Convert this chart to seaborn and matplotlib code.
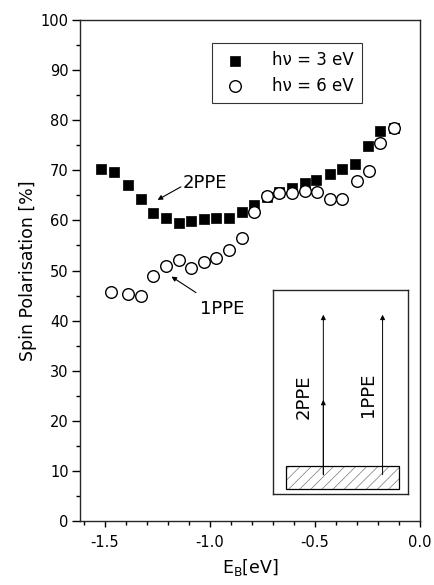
import numpy as np
import pandas as pd
import matplotlib
matplotlib.use('Agg')
import matplotlib.pyplot as plt
import seaborn as sns
from matplotlib.patches import Rectangle

sns.set_style('ticks')
plt.rcParams['font.family'] = ['DejaVu Sans']
plt.rcParams['axes.unicode_minus'] = False
plt.rcParams['hatch.linewidth'] = 0.5
plt.rcParams['text.color'] = 'black'
plt.rcParams['axes.labelcolor'] = 'black'
plt.rcParams['xtick.color'] = 'black'
plt.rcParams['ytick.color'] = 'black'

# hv = 3 eV (filled squares)
e_3ev = [-1.52, -1.457, -1.393, -1.33, -1.27, -1.21, -1.15, -1.09, -1.03, -0.97,
         -0.91, -0.85, -0.79, -0.73, -0.67, -0.61, -0.55, -0.495, -0.43, -0.37,
         -0.31, -0.25, -0.19, -0.126]
p_3ev = [70.3, 69.7, 67.0, 64.3, 61.4, 60.5, 59.5, 59.8, 60.2, 60.5,
         60.4, 61.7, 63.1, 64.6, 65.7, 66.4, 67.4, 68.0, 69.3, 70.3,
         71.3, 74.8, 77.8, 78.5]

# hv = 6 eV (open circles)
e_6ev = [-1.473, -1.393, -1.33, -1.27, -1.21, -1.15, -1.09, -1.03, -0.97, -0.91,
         -0.85, -0.79, -0.73, -0.67, -0.61, -0.55, -0.49, -0.43, -0.37, -0.30,
         -0.245, -0.19, -0.126]
p_6ev = [45.8, 45.4, 45.0, 48.9, 51.0, 52.1, 50.5, 51.7, 52.6, 54.1,
         56.4, 61.6, 64.8, 65.5, 65.5, 65.9, 65.7, 64.2, 64.2, 67.8,
         69.9, 75.5, 78.4]

df = pd.concat([
    pd.DataFrame({'E': e_3ev, 'P': p_3ev, 'src': 'hν = 3 eV'}),
    pd.DataFrame({'E': e_6ev, 'P': p_6ev, 'src': 'hν = 6 eV'}),
])

fs = 10.5
fs_big = 13

fig = plt.figure(figsize=(4.34, 5.85), dpi=100)
ax = fig.add_axes([0.184, 0.109, 0.784, 0.857])

sq = df[df['src'] == 'hν = 3 eV']
ci = df[df['src'] == 'hν = 6 eV']
sns.scatterplot(data=sq, x='E', y='P', marker='s', s=55, color='black',
                edgecolor='black', linewidth=0.5, label='hν = 3 eV', ax=ax, zorder=3)
sns.scatterplot(data=ci, x='E', y='P', marker='o', s=70, facecolor='white',
                edgecolor='black', linewidth=1.0, label='hν = 6 eV', ax=ax, zorder=4)

ax.set_xlim(-1.62, 0.0)
ax.set_ylim(0, 100)
ax.set_xticks([-1.5, -1.0, -0.5, 0.0])
ax.set_xticks(np.arange(-1.6, 0.01, 0.1), minor=True)
ax.set_yticks(range(0, 101, 10))
ax.set_yticks(range(5, 100, 10), minor=True)
ax.tick_params(which='both', direction='out', labelsize=fs, width=1)
ax.tick_params(axis='y', which='major', length=6, pad=2)
ax.tick_params(axis='y', which='minor', length=3)
ax.tick_params(axis='x', which='major', length=4, pad=6)
ax.tick_params(axis='x', which='minor', length=3)
for s in ax.spines.values():
    s.set_linewidth(1.0)

ax.set_xlabel('E$_\\mathregular{B}$[eV]', fontsize=12.5, labelpad=5)
ax.set_ylabel('Spin Polarisation [%]', fontsize=12.5, labelpad=3)

leg = ax.legend(loc='upper right', bbox_to_anchor=(0.829, 0.954), borderaxespad=0,
                frameon=True, fancybox=False, edgecolor='black', fontsize=12,
                handletextpad=1.3, borderpad=0.5, labelspacing=0.45,
                handlelength=1.8)
leg.get_frame().set_linewidth(0.8)

# curve labels with pointer arrows
ax.text(-1.13, 67.4, '2PPE', fontsize=fs_big, va='center', ha='left')
ax.annotate('', xy=(-1.25, 64.1), xytext=(-1.139, 66.7),
            arrowprops=dict(arrowstyle='-|>', color='black', lw=0.8,
                            mutation_scale=7, shrinkA=0, shrinkB=0))
ax.text(-1.048, 42.4, '1PPE', fontsize=fs_big, va='center', ha='left')
ax.annotate('', xy=(-1.184, 48.8), xytext=(-1.067, 45.6),
            arrowprops=dict(arrowstyle='-|>', color='black', lw=0.8,
                            mutation_scale=7, shrinkA=0, shrinkB=0))

# inset scheme
ins = fig.add_axes([0.629, 0.156, 0.311, 0.349])
ins.set_xlim(0, 1)
ins.set_ylim(0, 1)
ins.set_xticks([])
ins.set_yticks([])
for s in ins.spines.values():
    s.set_linewidth(1.0)
ins.add_patch(Rectangle((0.094, 0.025), 0.839, 0.109, facecolor='white',
                        edgecolor='#777777', hatch='///', linewidth=0))
ins.add_patch(Rectangle((0.094, 0.025), 0.839, 0.109, facecolor='none',
                        edgecolor='black', linewidth=0.9))
for x in [0.373, 0.812]:
    ins.annotate('', xy=(x, 0.877), xytext=(x, 0.093),
                 arrowprops=dict(arrowstyle='-|>', color='black', lw=0.7,
                                 mutation_scale=7, shrinkA=0, shrinkB=0))
ins.annotate('', xy=(0.373, 0.46), xytext=(0.373, 0.093),
             arrowprops=dict(arrowstyle='-|>', color='black', lw=0.7,
                             mutation_scale=7, shrinkA=0, shrinkB=0))
ins.text(0.224, 0.477, '2PPE', rotation=90, ha='center', va='center', fontsize=fs_big)
ins.text(0.706, 0.485, '1PPE', rotation=90, ha='center', va='center', fontsize=fs_big)

fig.savefig('out.png', dpi=100)
